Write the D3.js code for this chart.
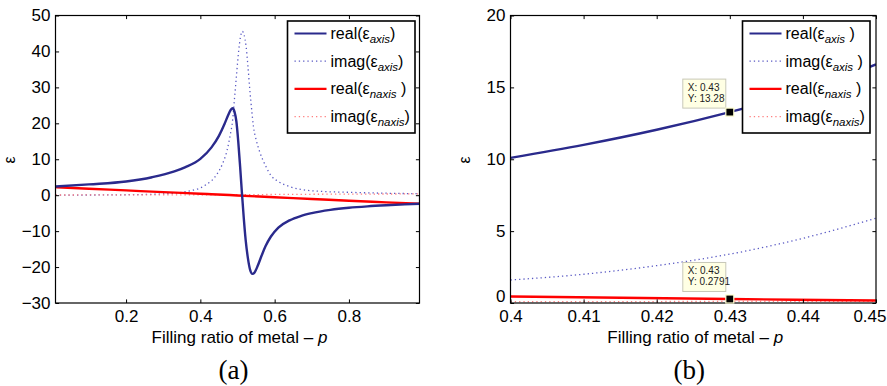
<!DOCTYPE html>
<html>
<head>
<meta charset="utf-8">
<script src="https://cdn.jsdelivr.net/npm/d3@7"></script>
<style>
  body { margin: 0; background: #fff; }
  svg { display: block; }
  text { font-family: "Liberation Sans", Arial, sans-serif; fill: #000; }
</style>
</head>
<body>
<div id="chart"></div>
<script>
// panel (a): whole range of p, values as [p, eps]
var realAxisA = [[0.01,2.4],[0.1,3.0],[0.2,3.8],[0.27,5.0],[0.33,6.6],[0.36,7.8],[0.4,10.1],[0.43,13.3],
  [0.45,16.5],[0.465,19.8],[0.475,22.3],[0.482,23.8],[0.487,24.2],[0.492,23.2],[0.497,20.5],[0.502,15],
  [0.507,8],[0.512,0.5],[0.517,-6.5],[0.522,-12.5],[0.528,-17.5],[0.534,-20.8],[0.54,-21.9],[0.546,-21.5],
  [0.555,-19.5],[0.565,-16.8],[0.575,-14.3],[0.59,-11.5],[0.61,-9],[0.64,-7],[0.67,-5.8],[0.7,-5.0],
  [0.75,-4.1],[0.8,-3.5],[0.85,-3.1],[0.9,-2.8],[0.95,-2.55],[0.99,-2.4]];
var imagAxisA = [[0.01,0.02],[0.1,0.05],[0.2,0.12],[0.3,0.35],[0.35,0.8],[0.375,1.3],[0.4,2.0],[0.415,2.9],
  [0.43,4.0],[0.445,5.9],[0.46,8.8],[0.472,12.5],[0.48,16.5],[0.487,21],[0.492,27],[0.497,33],[0.503,40],
  [0.508,44],[0.513,45.6],[0.518,44.5],[0.523,41.5],[0.528,36],[0.533,29.5],[0.538,24],[0.543,19],
  [0.55,15.5],[0.56,12],[0.575,8.3],[0.59,5.5],[0.61,3.8],[0.64,2.4],[0.67,1.6],[0.72,1.1],[0.8,0.8],
  [0.9,0.55],[0.99,0.4]];
var realNaxisA = [[0.01,2.25],[0.1,1.8],[0.2,1.33],[0.3,0.85],[0.4,0.42],[0.43,0.28],[0.5,-0.08],
  [0.6,-0.58],[0.7,-1.05],[0.8,-1.55],[0.9,-2.0],[0.99,-2.4]];
var imagNaxisA = [[0.01,0.05],[0.2,0.08],[0.4,0.1],[0.6,0.2],[0.8,0.3],[0.99,0.35]];

// panel (b): zoom on 0.4 .. 0.45
var realAxisB = [[0.4,10.1],[0.41,11.0],[0.42,12.05],[0.43,13.28],[0.44,14.7],[0.45,16.6]];
var imagAxisB = [[0.4,1.6],[0.41,2.0],[0.42,2.6],[0.43,3.4],[0.44,4.5],[0.45,5.9]];
var realNaxisB = [[0.4,0.45],[0.43,0.2791],[0.45,0.17]];
var imagNaxisB = [[0.4,0.09],[0.45,0.12]];

var ticksXA = [0.2, 0.4, 0.6, 0.8];
var ticksYA = [-30, -20, -10, 0, 10, 20, 30, 40, 50];
var ticksXB = [0.4, 0.41, 0.42, 0.43, 0.44, 0.45];
var ticksYB = [0, 5, 10, 15, 20];

var legendA = [["real(ε", "axis", ")"], ["imag(ε", "axis", ")"], ["real(ε", "naxis", " )"], ["imag(ε", "naxis", ")"]];
var legendB = [["real(ε", "axis", " )"], ["imag(ε", "axis", " )"], ["real(ε", "naxis", " )"], ["imag(ε", "naxis", ")"]];

// data tips on panel (b): [p, eps, label]
var tipsB = [[0.43, 13.28, "13.28"], [0.43, 0.2791, "0.2791"]];

var styles = [
  { color: "#2a2a8c", width: 2.4, dash: null },
  { color: "#5a5ac4", width: 1.3, dash: "1.3,3" },
  { color: "#ff0000", width: 2.4, dash: null },
  { color: "#ff8080", width: 1.3, dash: "1.3,3" }
];

var svg = d3.select("#chart").append("svg")
  .attr("width", 887).attr("height", 386);

function drawPanel(o)
{
  var x = d3.scaleLinear().domain(o.xDomain).range([o.left, o.right]);
  var y = d3.scaleLinear().domain(o.yDomain).range([o.bottom, o.top]);
  var g = svg.append("g");

  g.append("clipPath").attr("id", o.id + "-clip")
    .append("rect")
    .attr("x", o.left).attr("y", o.top)
    .attr("width", o.right - o.left).attr("height", o.bottom - o.top);

  var line = d3.line()
    .x(function(d) { return x(d[0]); })
    .y(function(d) { return y(d[1]); })
    .curve(d3.curveMonotoneX);

  // dotted ones first, solid over them
  var order = [1, 3, 2, 0];
  var plot = g.append("g").attr("clip-path", "url(#" + o.id + "-clip)");
  order.forEach(function(i) {
    plot.append("path")
      .attr("d", line(o.series[i]))
      .attr("fill", "none")
      .attr("stroke", styles[i].color)
      .attr("stroke-width", styles[i].width)
      .attr("stroke-dasharray", styles[i].dash);
  });

  var ax = [
    [d3.axisBottom(x).tickValues(o.ticksX).tickFormat(o.fmtX), o.bottom, 0, 7],
    [d3.axisTop(x).tickValues(o.ticksX).tickFormat(""), o.top, 0, 0],
    [d3.axisLeft(y).tickValues(o.ticksY).tickFormat(d3.format("d")), 0, o.left, 5],
    [d3.axisRight(y).tickValues(o.ticksY).tickFormat(""), 0, o.right, 0]
  ];
  ax.forEach(function(a) {
    var ag = g.append("g")
      .attr("transform", "translate(" + a[2] + "," + a[1] + ")")
      .call(a[0].tickSizeInner(-3.6).tickSizeOuter(0).tickPadding(a[3]));
    ag.select(".domain").remove();
    ag.selectAll(".tick line").attr("stroke", "#000");
    ag.selectAll(".tick text")
      .style("font-family", "'Liberation Sans', Arial, sans-serif")
      .style("font-size", "17px").attr("fill", "#000");
  });
  if (o.nudgeZero) {
    g.selectAll(".tick text").filter(function(d) { return d === 0; })
      .attr("dy", "-0.1em");
    // last x label sits at the page edge
    g.selectAll(".tick text").filter(function(d) { return d === 0.45; })
      .attr("text-anchor", "end").attr("x", 886 - o.right);
  }

  g.append("rect")
    .attr("x", o.left).attr("y", o.top)
    .attr("width", o.right - o.left).attr("height", o.bottom - o.top)
    .attr("fill", "none").attr("stroke", "#000").attr("stroke-width", 1.2);

  // legend
  var lg = g.append("g");
  lg.append("rect")
    .attr("x", o.legX).attr("y", 21)
    .attr("width", o.legW).attr("height", 112)
    .attr("fill", "#fff").attr("stroke", "#000").attr("stroke-width", 1.6);
  o.legend.forEach(function(l, i) {
    var cy = 33.5 + i * 27.7;
    lg.append("line")
      .attr("x1", o.legX + 7).attr("x2", o.legX + 39)
      .attr("y1", cy).attr("y2", cy)
      .attr("stroke", styles[i].color)
      .attr("stroke-width", styles[i].dash ? 1.3 : 2.2)
      .attr("stroke-dasharray", styles[i].dash);
    var t = lg.append("text")
      .attr("x", o.legX + 43).attr("y", cy + 5.5)
      .style("font-size", "16px");
    t.append("tspan").text(l[0]);
    t.append("tspan").attr("dy", 4).style("font-size", "11.5px")
      .style("font-style", "italic").text(l[1]);
    t.append("tspan").attr("dy", -4).text(l[2]);
  });

  // labels
  g.append("text")
    .attr("x", (o.left + o.right) / 2 + 2).attr("y", 343)
    .attr("text-anchor", "middle").style("font-size", "17px")
    .call(function(t) {
      t.append("tspan").text("Filling ratio of metal – ");
      t.append("tspan").style("font-style", "italic").text("p");
    });
  g.append("text")
    .attr("transform", "translate(" + o.yLabX + ",160) rotate(-90)")
    .attr("text-anchor", "middle").style("font-size", "16px")
    .text("ε");
  g.append("text")
    .attr("x", (o.left + o.right) / 2 - 4).attr("y", 379)
    .attr("text-anchor", "middle")
    .style("font-family", "'Liberation Serif', 'Times New Roman', serif")
    .style("font-size", "27px")
    .text(o.tag);

  return { x: x, y: y, g: g };
}

drawPanel({
  id: "pa", left: 55.5, right: 419.5, top: 15.5, bottom: 303,
  xDomain: [0.01, 0.99], yDomain: [-30, 50],
  ticksX: ticksXA, ticksY: ticksYA, fmtX: d3.format(".1f"),
  series: [realAxisA, imagAxisA, realNaxisA, imagNaxisA],
  legend: legendA, legX: 287.5, legW: 127.5, yLabX: 15, tag: "(a)"
});

var pb = drawPanel({
  id: "pb", left: 510.5, right: 876, top: 15.5, bottom: 303,
  xDomain: [0.4, 0.45], yDomain: [0, 20],
  ticksX: ticksXB, ticksY: ticksYB,
  fmtX: function(d) { return d === 0.4 ? "0.4" : d3.format(".2f")(d); },
  series: [realAxisB, imagAxisB, realNaxisB, imagNaxisB],
  legend: legendB, legX: 742.5, legW: 127.5, yLabX: 470, tag: "(b)", nudgeZero: true
});

// data tips
tipsB.forEach(function(t, i) {
  var px = pb.x(t[0]), py = pb.y(t[1]);
  var bw = 43, bh = 29;
  var bx = px - 4 - bw, by = py - (i === 0 ? 4 : 7.5) - bh;
  pb.g.append("rect")
    .attr("x", bx).attr("y", by).attr("width", bw).attr("height", bh)
    .attr("fill", "#ffffe4").attr("stroke", "#c8c8b8").attr("stroke-width", 1);
  pb.g.append("text").attr("x", bx + 5).attr("y", by + 12)
    .style("font-size", "10px").style("fill", "#222")
    .text("X: " + t[0]);
  pb.g.append("text").attr("x", bx + 5).attr("y", by + 23)
    .style("font-size", "10px").style("fill", "#222")
    .text("Y: " + t[2]);
  pb.g.append("rect")
    .attr("x", px - 4).attr("y", py - 4).attr("width", 8).attr("height", 8)
    .attr("fill", "#000").attr("stroke", "#ffffd0").attr("stroke-width", 1.2);
});
</script>
</body>
</html>
